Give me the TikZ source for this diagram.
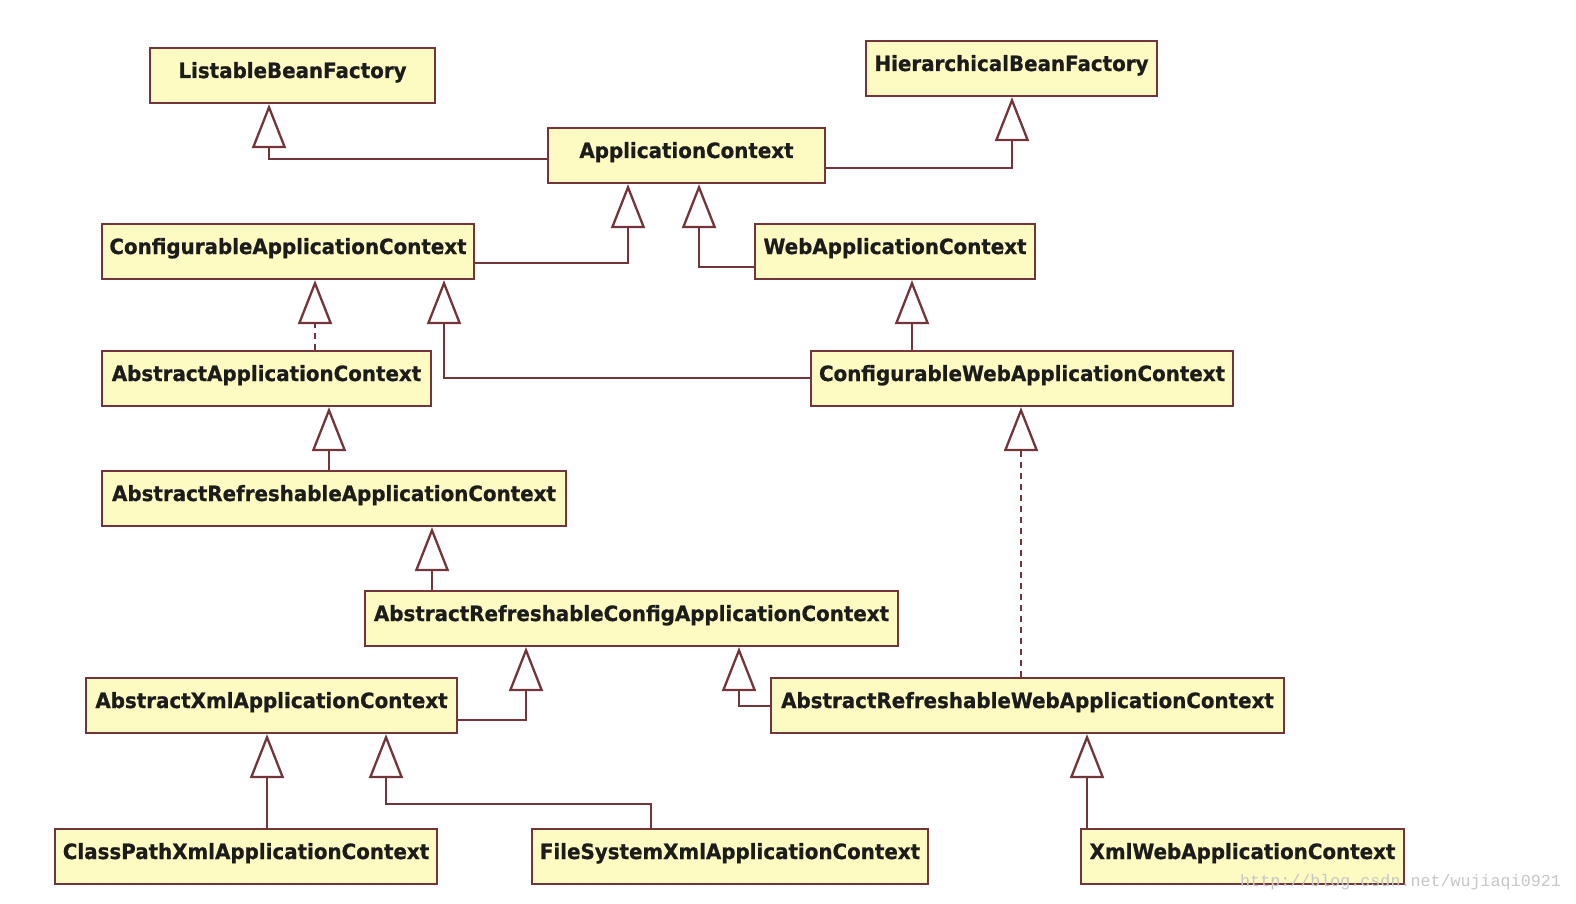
\documentclass[tikz,border=0pt]{standalone}
\usepackage{fontspec}
\setmainfont{DejaVu Sans}[FakeStretch=0.945, FakeBold=0.8]
\newfontfamily\wmfont{Liberation Mono}
\usetikzlibrary{arrows.meta}
\definecolor{boxfill}{HTML}{FDFAC2}
\definecolor{maroon}{HTML}{74353A}
\definecolor{txt}{HTML}{1C1C1C}
\tikzset{
  cls/.style={draw=maroon, fill=boxfill, line width=2.2pt, inner ysep=0pt, inner xsep=0pt,
    text height=30pt, text depth=25pt, font=\fontsize{21}{24}\selectfont\bfseries, text=txt},
  inh/.style={draw=maroon, line width=2.3pt,
    -{Triangle[length=44pt,width=34pt,fill=white,line join=miter]}},
  real/.style={inh, dash pattern=on 6pt off 5pt},
}
\begin{document}
\begin{tikzpicture}[x=1pt,y=-1pt]
\useasboundingbox (0,0) rectangle (1576,904);
\fill[white] (0,0) rectangle (1576,904);
\node[cls, minimum width=285pt] (LBF) at (292.5,75.5) {ListableBeanFactory};
\node[cls, minimum width=291pt] (HBF) at (1011.5,68.5) {HierarchicalBeanFactory};
\node[cls, minimum width=277pt] (AC) at (686.5,155.5) {ApplicationContext};
\node[cls, minimum width=372pt] (CAC) at (288,251.5) {ConfigurableApplicationContext};
\node[cls, minimum width=280pt] (WAC) at (895,251.5) {WebApplicationContext};
\node[cls, minimum width=329pt] (AAC) at (266.5,378.5) {AbstractApplicationContext};
\node[cls, minimum width=422pt] (CWAC) at (1022,378.5) {ConfigurableWebApplicationContext};
\node[cls, minimum width=464pt] (ARAC) at (334,498.5) {AbstractRefreshableApplicationContext};
\node[cls, minimum width=533pt] (ARCAC) at (631.5,618.5) {AbstractRefreshableConfigApplicationContext};
\node[cls, minimum width=371pt] (AXAC) at (271.5,705.5) {AbstractXmlApplicationContext};
\node[cls, minimum width=513pt] (ARWAC) at (1027.5,705.5) {AbstractRefreshableWebApplicationContext};
\node[cls, minimum width=382pt] (CPXAC) at (246,856.5) {ClassPathXmlApplicationContext};
\node[cls, minimum width=396pt] (FSXAC) at (730,856.5) {FileSystemXmlApplicationContext};
\node[cls, minimum width=323pt] (XWAC) at (1242.5,856.5) {XmlWebApplicationContext};

\draw[inh] (AC.west |- 0,159) -| (LBF.south -| 269,0);
\draw[inh] (AC.east |- 0,168) -| (HBF.south -| 1012,0);
\draw[inh] (CAC.east |- 0,263) -| (AC.south -| 628,0);
\draw[inh] (WAC.west |- 0,267) -| (AC.south -| 699,0);
\draw[real] (AAC.north -| 315,0) -- (CAC.south -| 315,0);
\draw[inh] (CWAC.west |- 0,378) -| (CAC.south -| 444,0);
\draw[inh] (CWAC.north -| 912,0) -- (WAC.south -| 912,0);
\draw[inh] (ARAC.north -| 329,0) -- (AAC.south -| 329,0);
\draw[inh] (ARCAC.north -| 432,0) -- (ARAC.south -| 432,0);
\draw[inh] (AXAC.east |- 0,720) -| (ARCAC.south -| 526,0);
\draw[inh] (ARWAC.west |- 0,706) -| (ARCAC.south -| 739,0);
\draw[real] (ARWAC.north -| 1021,0) -- (CWAC.south -| 1021,0);
\draw[inh] (CPXAC.north -| 267,0) -- (AXAC.south -| 267,0);
\draw[inh] (FSXAC.north -| 651,0) |- (651,804) -| (AXAC.south -| 386,0);
\draw[inh] (XWAC.north -| 1087,0) -- (ARWAC.south -| 1087,0);

\node[font=\wmfont\fontsize{16.7}{18}\selectfont, text=black!22, anchor=base west, inner sep=0pt] (wm) at (1240,886) {http://blog.csdn.net/wujiaqi0921};
\end{tikzpicture}
\end{document}
